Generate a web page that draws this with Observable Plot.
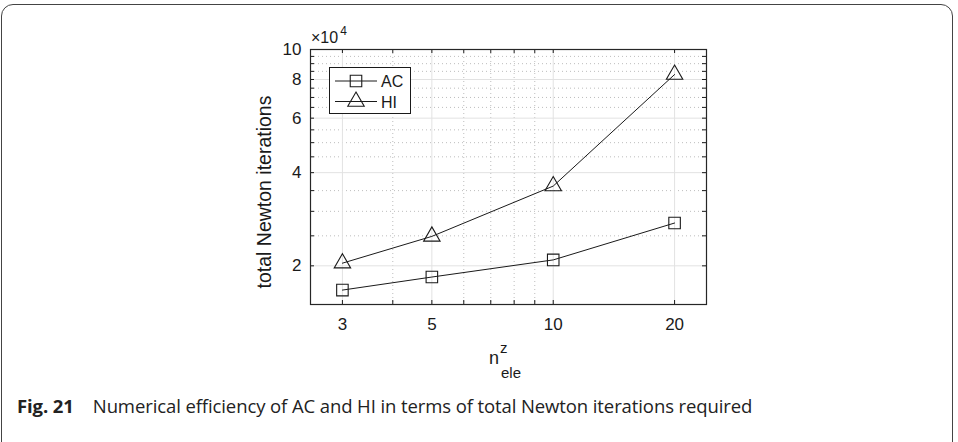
<!DOCTYPE html>
<html><head><meta charset="utf-8">
<script src="https://cdn.jsdelivr.net/npm/d3@7"></script>
<script src="https://cdn.jsdelivr.net/npm/@observablehq/plot@0.6"></script>
<style>
body{margin:0;background:#fff;width:958px;height:442px;overflow:hidden;position:relative;font-family:"Liberation Sans",Arial,sans-serif;}
#box{position:absolute;left:1px;top:4px;width:950px;height:470px;border:1.4px solid #444;border-radius:12px;}
#chart{position:absolute;left:0;top:0;}
#caption{position:absolute;left:17px;top:393px;font-family:"Open Sans","Noto Sans",sans-serif;font-size:18.5px;color:#222;white-space:nowrap;letter-spacing:-0.1px}
#caption b{font-weight:bold;margin-right:19px;}
</style></head><body>
<div id="box"></div>
<div id="chart"></div>
<div id="caption"><b>Fig. 21</b><span id="captext"></span></div>
<script>
// ---- data ----
const nEle = [3, 5, 10, 20];
const acIter = [16700, 18400, 20900, 27500];
const hiIter = [20400, 24900, 36200, 83000];
const seriesNames = ["AC", "HI"];
const xTicks = [3, 5, 10, 20];
const xMinor = [4, 6, 7, 8, 9];
const yTicks = [2, 4, 6, 8, 10];
const yMinor = [2.5, 3, 3.5, 4.5, 5, 5.5, 6.5, 7, 7.5, 8.5, 9, 9.5];
const yLabel = "total Newton iterations";
const caption = "Numerical efficiency of AC and HI in terms of total Newton iterations required";
document.getElementById("captext").textContent = caption;

const acRows = nEle.map((n, i) => ({n, v: acIter[i] / 1e4, s: seriesNames[0]}));
const hiRows = nEle.map((n, i) => ({n, v: hiIter[i] / 1e4, s: seriesNames[1]}));

const W = 958, H = 442;
const mL = 310, mR = 252, mT = 49, mB = 138;
const fw = W - mL - mR, fh = H - mT - mB;
const tl = 4;
const ink = "#1a1a1a";
const ff = "'Liberation Sans', Arial, sans-serif";

const plot = Plot.plot({
  width: W, height: H,
  marginLeft: mL, marginRight: mR, marginTop: mT, marginBottom: mB,
  style: {fontFamily: ff, fontSize: "17px", color: ink, background: "transparent"},
  x: {type: "log", domain: [2.5, 24]},
  y: {type: "log", domain: [1.5, 10]},
  marks: [
    Plot.ruleX(xMinor, {stroke: "#bdbdbd", strokeDasharray: "1,3"}),
    Plot.ruleY(yMinor, {stroke: "#bdbdbd", strokeDasharray: "1,3"}),
    Plot.ruleX(xTicks, {stroke: "#e2e2e2", strokeWidth: 1}),
    Plot.ruleY(yTicks, {stroke: "#e2e2e2", strokeWidth: 1}),
    // inward ticks
    Plot.ruleX(xTicks.concat(xMinor), {stroke: ink, insetTop: fh - tl}),
    Plot.ruleX(xTicks.concat(xMinor), {stroke: ink, insetBottom: fh - tl}),
    Plot.ruleY(yTicks.concat(yMinor), {stroke: ink, insetRight: fw - tl}),
    Plot.ruleY(yTicks.concat(yMinor), {stroke: ink, insetLeft: fw - tl}),
    Plot.axisX({ticks: xTicks, tickSize: 0, tickPadding: 13, tickFormat: d => String(d), label: null, fontSize: 17}),
    Plot.axisY({ticks: yTicks, tickSize: 0, tickPadding: 9, tickFormat: d => String(d), label: null, fontSize: 17}),
    Plot.line(acRows, {x: "n", y: "v", stroke: ink, strokeWidth: 1}),
    Plot.line(hiRows, {x: "n", y: "v", stroke: ink, strokeWidth: 1}),
    Plot.dot(acRows, {x: "n", y: "v", symbol: "square", r: 6.5, stroke: ink, fill: "none", strokeWidth: 1.1}),
    Plot.dot(hiRows, {x: "n", y: "v", symbol: "triangle", r: 6.1, stroke: ink, fill: "none", strokeWidth: 1.1}),
    Plot.frame({stroke: "#262626", strokeWidth: 1.2})
  ]
});
document.getElementById("chart").appendChild(plot);

const svg = d3.select(plot);
svg.selectAll("text").filter(function() { return this.closest('g[aria-label*="axis"]'); })
  .style("font-size", "17px").style("font-family", ff);

function txt(x, y, size, anchor) {
  return svg.append("text").attr("x", x).attr("y", y).style("font-family", ff).style("font-size", size + "px")
    .attr("text-anchor", anchor || "start").attr("fill", ink);
}
// exponent label
const ex = txt(311, 43, 16);
ex.append("tspan").text("\u00d710");
ex.append("tspan").attr("dx", 2).attr("dy", -8).style("font-size", "12px").text("4");
// y label
svg.append("text").attr("transform", "translate(271,192) rotate(-90)").attr("text-anchor", "middle")
  .style("font-family", ff).style("font-size", "19.5px").attr("fill", ink).text(yLabel);
// x label n^z_ele
const xl = txt(489, 364, 18);
xl.append("tspan").text("n");
xl.append("tspan").attr("dx", 1).attr("dy", -11).style("font-size", "15px").text("z");
xl.append("tspan").attr("x", 501).attr("y", 378).style("font-size", "15px").text("ele");
// legend
const lg = svg.append("g");
lg.append("rect").attr("x", 329.5).attr("y", 67.5).attr("width", 81).attr("height", 46)
  .attr("fill", "#fff").attr("stroke", ink).attr("stroke-width", 1);
const rowsY = [81, 101.5];
const syms = [d3.symbol(d3.symbolSquare, Math.PI * 6.5 * 6.5), d3.symbol(d3.symbolTriangle, Math.PI * 6.1 * 6.1)];
seriesNames.forEach((name, i) => {
  const y = rowsY[i];
  lg.append("line").attr("x1", 335).attr("x2", 377).attr("y1", y).attr("y2", y).attr("stroke", ink);
  lg.append("path").attr("d", syms[i]()).attr("transform", `translate(356,${y})`).attr("fill", "none").attr("stroke", ink).attr("stroke-width", 1.1);
  txt(381, y + 6, 16).text(name);
});
</script>
</body></html>
